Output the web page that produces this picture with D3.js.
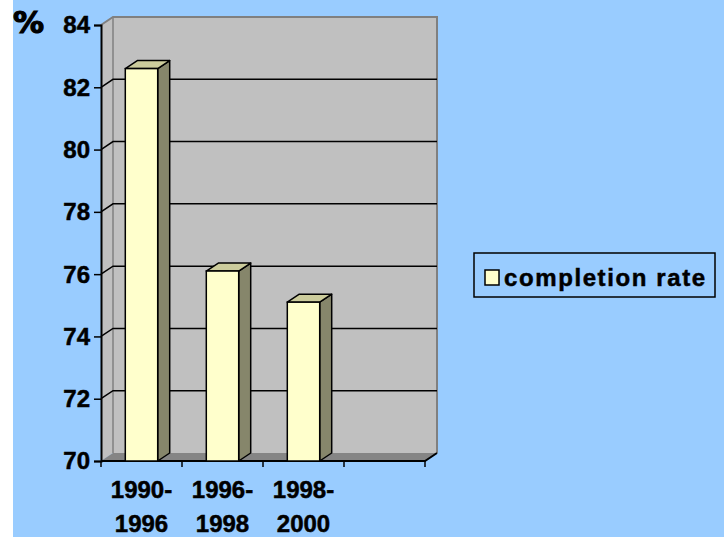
<!DOCTYPE html>
<html>
<head>
<meta charset="utf-8">
<script src="https://cdn.jsdelivr.net/npm/d3@7"></script>
<style>
  html, body { margin: 0; padding: 0; background: #ffffff; }
  text { font-family: "Liberation Sans", Arial, sans-serif; font-weight: bold; fill: #000; stroke: #000; stroke-width: 0.5px; }
</style>
</head>
<body>
<svg width="724" height="537"></svg>
<script>
// data
var categories = [['1990-', '1996'], ['1996-', '1998'], ['1998-', '2000'], ['', '']];
var completionRate = [82.6, 76.1, 75.1];
var yTicks = [70, 72, 74, 76, 78, 80, 82, 84];
var seriesName = 'completion rate';

var svg = d3.select('svg');
var plot = { l: 101, r: 425, t: 25, b: 461 };
var depth = { dx: 12, dy: -8 };

// background
svg.append('rect')
    .attr('x', 13).attr('y', 0)
    .attr('width', 711).attr('height', 537)
    .attr('fill', '#99ccff');

var xScale = d3.scaleBand()
    .domain(categories.map(function(d, i) { return i; }))
    .range([plot.l, plot.r])
    .paddingInner(0.6)
    .paddingOuter(0.3);

var yScale = d3.scaleLinear()
    .domain([70, 84])
    .range([plot.b, plot.t]);

var g = svg.append('g');

// side wall
g.append('polygon')
    .attr('points', [[plot.l, plot.t], [plot.l + depth.dx, plot.t + depth.dy],
        [plot.l + depth.dx, plot.b + depth.dy], [plot.l, plot.b]].join(' '))
    .attr('fill', '#c0c0c0');

// back wall
g.append('rect')
    .attr('x', plot.l + depth.dx)
    .attr('y', plot.t + depth.dy)
    .attr('width', plot.r - plot.l)
    .attr('height', plot.b - plot.t)
    .attr('fill', '#c0c0c0');

// floor
g.append('polygon')
    .attr('points', [[plot.l, plot.b], [plot.r, plot.b],
        [plot.r + depth.dx, plot.b + depth.dy], [plot.l + depth.dx, plot.b + depth.dy]].join(' '))
    .attr('fill', '#858585');

// wall edges
g.append('polyline')
    .attr('points', [[plot.l, plot.t], [plot.l + depth.dx, plot.t + depth.dy],
        [plot.r + depth.dx, plot.t + depth.dy], [plot.r + depth.dx, plot.b + depth.dy]].join(' '))
    .attr('fill', 'none')
    .attr('stroke', '#808080')
    .attr('stroke-width', 2);
g.append('line')
    .attr('x1', plot.l + depth.dx).attr('x2', plot.l + depth.dx)
    .attr('y1', plot.t + depth.dy).attr('y2', plot.b + depth.dy)
    .attr('stroke', '#808080')
    .attr('stroke-width', 1.5);

// gridlines
var grid = yTicks.filter(function(d) { return d > 70 && d < 84; });
g.selectAll('.grid')
    .data(grid)
    .enter().append('polyline')
    .attr('class', 'grid')
    .attr('points', function(d) {
        var y = yScale(d);
        return [[plot.l, y], [plot.l + depth.dx, y + depth.dy], [plot.r + depth.dx, y + depth.dy]].join(' ');
    })
    .attr('fill', 'none')
    .attr('stroke', '#000')
    .attr('stroke-width', 1.5);

// floor front edge
g.append('polyline')
    .attr('points', [[plot.l, plot.b], [plot.r, plot.b], [plot.r + depth.dx, plot.b + depth.dy]].join(' '))
    .attr('fill', 'none')
    .attr('stroke', '#000')
    .attr('stroke-width', 2);

// bars
var bw = xScale.bandwidth();
var bars = g.selectAll('.bar')
    .data(completionRate)
    .enter().append('g')
    .attr('class', 'bar');

bars.append('polygon')
    .attr('points', function(d, i) {
        var x = xScale(i) + bw, y = yScale(d);
        return [[x, y], [x + depth.dx, y + depth.dy], [x + depth.dx, plot.b + depth.dy], [x, plot.b]].join(' ');
    })
    .attr('fill', '#86866b')
    .attr('stroke', '#000')
    .attr('stroke-width', 1.5)
    .attr('stroke-linejoin', 'round');

bars.append('polygon')
    .attr('points', function(d, i) {
        var x = xScale(i), y = yScale(d);
        return [[x, y], [x + depth.dx, y + depth.dy], [x + bw + depth.dx, y + depth.dy], [x + bw, y]].join(' ');
    })
    .attr('fill', '#cccc9c')
    .attr('stroke', '#000')
    .attr('stroke-width', 1.5)
    .attr('stroke-linejoin', 'round');

bars.append('rect')
    .attr('x', function(d, i) { return xScale(i); })
    .attr('y', function(d) { return yScale(d); })
    .attr('width', bw)
    .attr('height', function(d) { return plot.b - yScale(d); })
    .attr('fill', '#ffffcc')
    .attr('stroke', '#000')
    .attr('stroke-width', 1.5);

// y axis
var yAxis = g.append('g')
    .attr('transform', 'translate(' + plot.l + ',0)')
    .call(d3.axisLeft(yScale).tickValues(yTicks).tickSize(7).tickPadding(4).tickFormat(d3.format('d')));
yAxis.select('.domain').attr('stroke', '#000').attr('stroke-width', 2);
yAxis.selectAll('.tick line').attr('stroke', '#000').attr('stroke-width', 1.5);
yAxis.selectAll('.tick text')
    .attr('font-size', 24)
    .attr('font-family', '"Liberation Sans", Arial, sans-serif')
    .attr('font-weight', 'bold')
    .attr('dy', '0.33em');

// x axis ticks at slot boundaries
var step = xScale.step();
var xTickPos = d3.range(categories.length + 1).map(function(i) { return plot.l + i * step; });
g.selectAll('.xtick')
    .data(xTickPos)
    .enter().append('line')
    .attr('class', 'xtick')
    .attr('x1', function(d) { return d; })
    .attr('x2', function(d) { return d; })
    .attr('y1', plot.b)
    .attr('y2', plot.b + 6)
    .attr('stroke', '#000')
    .attr('stroke-width', 1.5);

// category labels
var labels = g.selectAll('.xlabel')
    .data(categories)
    .enter().append('text')
    .attr('class', 'xlabel')
    .attr('text-anchor', 'middle')
    .attr('font-size', 24)
    .attr('x', function(d, i) { return xScale(i) + bw / 2; });
labels.append('tspan')
    .attr('x', function(d, i) { return xScale(i) + bw / 2; })
    .attr('y', 498)
    .text(function(d) { return d[0]; });
labels.append('tspan')
    .attr('x', function(d, i) { return xScale(i) + bw / 2; })
    .attr('y', 532)
    .text(function(d) { return d[1]; });

// % unit
svg.append('text')
    .attr('x', 13)
    .attr('y', 33)
    .attr('font-size', 31)
    .style('font-family', '"DejaVu Sans", sans-serif')
    .style('font-weight', 900)
    .style('stroke-width', '1.2px')
    .text('%');

// legend
var legend = svg.append('g');
legend.append('rect')
    .attr('x', 474).attr('y', 253)
    .attr('width', 241).attr('height', 44)
    .attr('fill', 'none')
    .attr('stroke', '#000')
    .attr('stroke-width', 1.5);
legend.append('rect')
    .attr('x', 485).attr('y', 270)
    .attr('width', 14).attr('height', 15)
    .attr('fill', '#ffffcc')
    .attr('stroke', '#000')
    .attr('stroke-width', 1.5);
legend.append('text')
    .attr('x', 504)
    .attr('y', 286)
    .attr('font-size', 24)
    .attr('letter-spacing', 1.6)
    .text(seriesName);
</script>
</body>
</html>
